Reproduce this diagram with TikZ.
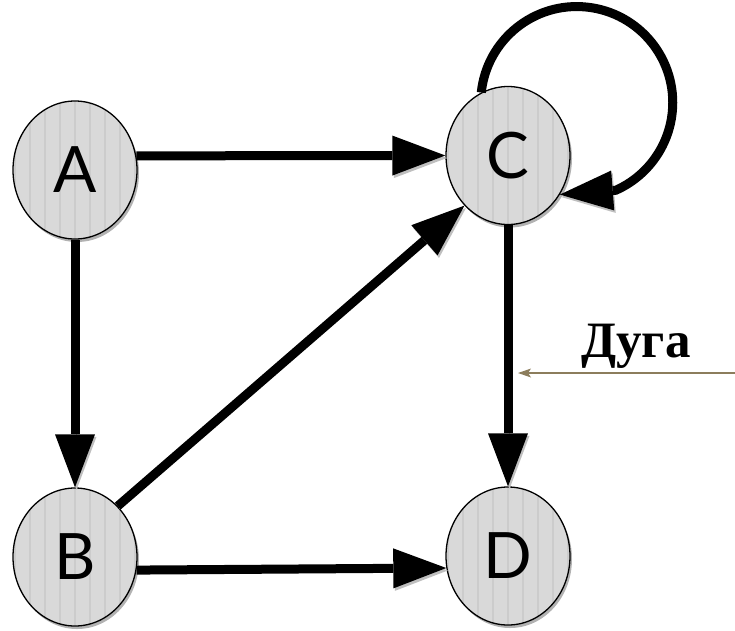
\documentclass[tikz,border=0pt]{standalone}
\usepackage{fontspec}
\setmainfont{Liberation Serif}
\newfontfamily\vertexfont{Lato}
\usetikzlibrary{shapes.geometric,arrows.meta,shadows}
\definecolor{pointerbrown}{HTML}{8C7D5C}
\begin{document}
\begin{tikzpicture}[x=1pt,y=1pt,
  vertex/.style={ellipse,draw,line width=1.3pt,fill=gray!30,
    minimum width=124pt,minimum height=138pt,inner sep=0pt,
    font=\vertexfont\fontsize{64}{64}\selectfont,
    drop shadow={shadow xshift=2pt,shadow yshift=-3pt,fill=black,opacity=0.3},
    path picture={
      \foreach \s in {-60,-45,...,60}
        \draw[gray!40,line width=2.5pt]
          ([xshift=\s pt]path picture bounding box.south) --
          ([xshift=\s pt]path picture bounding box.north);
    }},
  link/.style={line width=9pt,
    -{Triangle[length=53pt,width=40pt,line width=0pt]},
    preaction={draw=black!25,transform canvas={shift={(1.5pt,-2.5pt)}}}},
  pointer/.style={draw=pointerbrown,line width=1.8pt,
    -{Stealth[length=13pt,width=9pt,inset=3pt,line width=0pt]}},
  caption/.style={font=\bfseries\fontsize{51}{51}\selectfont,anchor=base}]

\useasboundingbox (0,0) rectangle (735,-630);

% vertices
\node[vertex] (A) at (75,-170)    {A};
\node[vertex] (C) at (508,-155.5) {C};
\node[vertex] (B) at (75,-557)    {B};
\node[vertex] (D) at (508,-556)   {D};

% arcs between vertices
\draw[link] (A.13)  -- (C.west);
\draw[link] (A.south) -- (B.north);
\draw[link] (B.50)  -- (C.229);
\draw[link] (B.-12) -- (D.191);
\draw[link] (C.south) -- (D.north);

% loop on C
\draw[link] (C.113) arc[start angle=174,end angle=-66,radius=96] -- (C.-37);

% caption with its pointer
\node[caption] (lbl) at (636,-357) {Дуга};
\coordinate (ptrfrom) at (735,-373);
\coordinate (ptrto)   at (518,-373);
\draw[pointer] (ptrfrom) -- (ptrto);

\end{tikzpicture}
\end{document}
